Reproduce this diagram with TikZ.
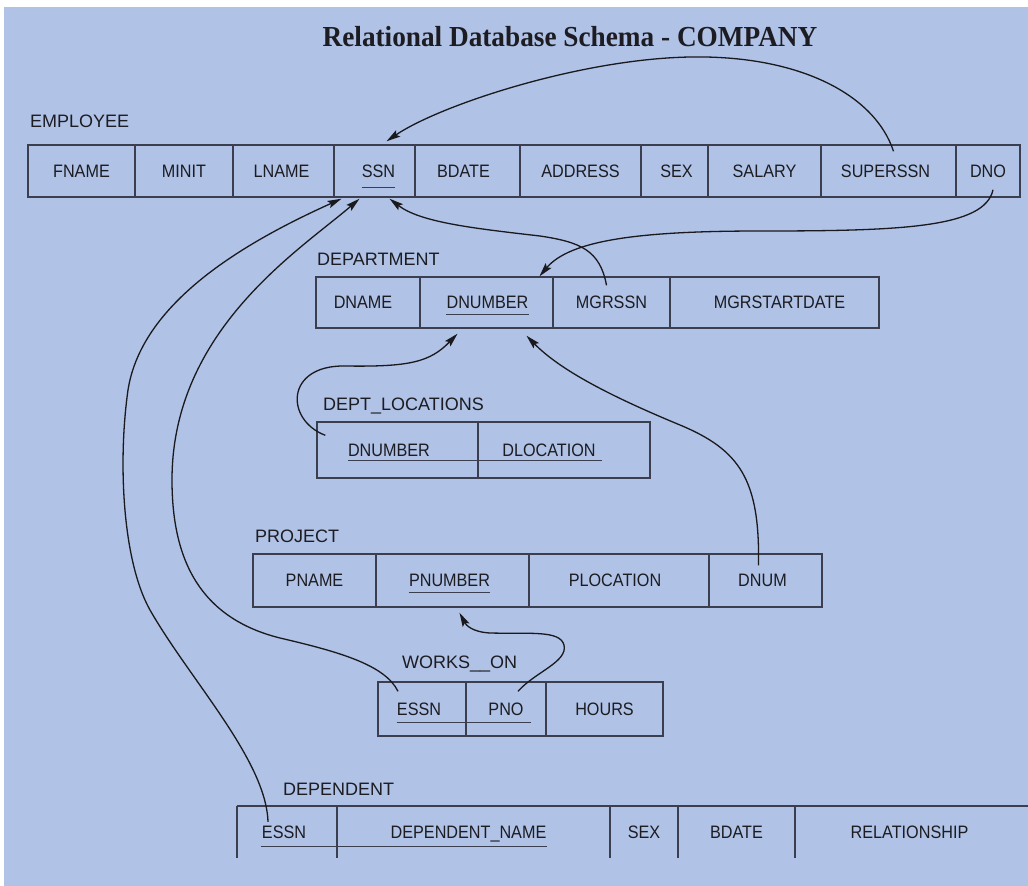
\documentclass[tikz,border=0pt]{standalone}
\usepackage{fontspec}
\usetikzlibrary{arrows.meta}
\newfontfamily\cellfont[FakeStretch=0.9]{Liberation Sans}
\newfontfamily\labfont{Liberation Sans}
\newfontfamily\titfont[FakeStretch=0.94]{Liberation Serif}
\definecolor{bg}{RGB}{176,194,229}
\definecolor{tlinec}{RGB}{58,62,78}
\definecolor{txtc}{RGB}{28,28,34}
\definecolor{arrc}{RGB}{25,25,30}
\newcommand\mkcell[7]{%
  \node[cellbox, minimum width=#3pt, minimum height=#5pt] (#1) at (#2,#4) {};
  \node[celltext, xshift=#7pt] (#1-t) at (#1) {#6};}
\newcommand\mkopen[7]{%
  \node[openbox, minimum width=#3pt, minimum height=#5pt] (#1) at (#2,#4) {};
  \node[celltext, xshift=#7pt] (#1-t) at (#1) {#6};}
\begin{document}
\begin{tikzpicture}[x=1pt,y=-1pt,
  cellbox/.style={draw=tlinec, line width=1.4pt, inner sep=0pt},
  openbox/.style={inner sep=0pt},
  celltext/.style={inner sep=0pt, text height=12.9pt, text depth=0pt, text=txtc,
    font=\cellfont\fontsize{18}{20}\selectfont},
  lab/.style={anchor=west, inner sep=0pt, text height=12.9pt, text depth=0pt, text=txtc,
    font=\labfont\fontsize{18}{20}\selectfont},
  tl/.style={draw=tlinec, line width=1.4pt},
  ul/.style={draw=tlinec, line width=1.3pt},
  conn/.style={draw=arrc, line width=1.3pt, -{Stealth[length=14pt,width=7.5pt,inset=2.5pt]}}]
\fill[white] (0,0) rectangle (1028,886);
\fill[bg] (4,7) rectangle (1028,886);
\useasboundingbox (0,0) rectangle (1028,886);

\node[inner sep=0pt, text=txtc, font=\titfont\bfseries\fontsize{29}{32}\selectfont] (title) at (570,37) {Relational Database Schema - COMPANY};

% EMPLOYEE
\node[lab] (l-emp) at (30,121) {EMPLOYEE};
\mkcell{e-fname}{81.5}{107}{171}{52}{FNAME}{0}
\mkcell{e-minit}{184}{98}{171}{52}{MINIT}{0}
\mkcell{e-lname}{283.5}{101}{171}{52}{LNAME}{-2}
\mkcell{e-ssn}{374.5}{81}{171}{52}{SSN}{4}
\mkcell{e-bdate}{467.5}{105}{171}{52}{BDATE}{-4}
\mkcell{e-address}{580.5}{121}{171}{52}{ADDRESS}{0}
\mkcell{e-sex}{674.5}{67}{171}{52}{SEX}{2}
\mkcell{e-salary}{764.5}{113}{171}{52}{SALARY}{0}
\mkcell{e-superssn}{888.5}{135}{171}{52}{SUPERSSN}{-3}
\mkcell{e-dno}{988}{64}{171}{52}{DNO}{0}

% DEPARTMENT
\node[lab] (l-dept) at (317,259) {DEPARTMENT};
\mkcell{d-dname}{368}{104}{302.5}{51}{DNAME}{-5}
\mkcell{d-dnumber}{486.5}{133}{302.5}{51}{DNUMBER}{1}
\mkcell{d-mgrssn}{611.5}{117}{302.5}{51}{MGRSSN}{0}
\mkcell{d-mgrstart}{774.5}{209}{302.5}{51}{MGRSTARTDATE}{5}

% DEPT_LOCATIONS
\node[lab] (l-dl) at (323,404) {DEPT\textunderscore LOCATIONS};
\mkcell{dl-dnumber}{397.5}{161}{450}{56}{DNUMBER}{-8.5}
\mkcell{dl-dlocation}{564}{172}{450}{56}{DLOCATION}{-15}

% PROJECT
\node[lab] (l-proj) at (255,536) {PROJECT};
\mkcell{p-pname}{314.5}{123}{580.5}{53}{PNAME}{0}
\mkcell{p-pnumber}{452.5}{153}{580.5}{53}{PNUMBER}{-3}
\mkcell{p-plocation}{619}{180}{580.5}{53}{PLOCATION}{-4}
\mkcell{p-dnum}{765.5}{113}{580.5}{53}{DNUM}{-3}

% WORKS_ON
\node[lab] (l-wo) at (402,662) {WORKS\textunderscore\textunderscore ON};
\mkcell{w-essn}{422}{88}{709}{54}{ESSN}{-3}
\mkcell{w-pno}{506}{80}{709}{54}{PNO}{0}
\mkcell{w-hours}{604.5}{117}{709}{54}{HOURS}{0}

% DEPENDENT
\node[lab] (l-dep) at (283,789) {DEPENDENT};
\mkopen{dep-essn}{287}{100}{832}{52}{ESSN}{-3}
\mkopen{dep-name}{473.5}{273}{832}{52}{DEPENDENT\textunderscore NAME}{-5}
\mkopen{dep-sex}{644}{68}{832}{52}{SEX}{0}
\mkopen{dep-bdate}{736.5}{117}{832}{52}{BDATE}{0}
\mkopen{dep-rel}{911.5}{233}{832}{52}{RELATIONSHIP}{-2}
\draw[tl] (dep-essn.north west) -- (dep-rel.north east);
\foreach \c in {dep-essn,dep-name,dep-sex,dep-bdate,dep-rel}
  \draw[tl] (\c.north west) -- (\c.south west);

% underlines (keys)
\draw[ul] ([yshift=-10pt]e-ssn-t.south west) -- ([yshift=-10pt]e-ssn-t.south east);
\draw[ul] ([yshift=-5pt]d-dnumber-t.south west) -- ([yshift=-5pt]d-dnumber-t.south east);
\draw[ul] ([yshift=-4pt]dl-dnumber-t.south west) -- ([xshift=6pt,yshift=-4pt]dl-dlocation-t.south east);
\draw[ul] ([yshift=-5pt]p-pnumber-t.south west) -- ([yshift=-5pt]p-pnumber-t.south east);
\draw[ul] ([yshift=-7pt]w-essn-t.south west) -- ([xshift=7pt,yshift=-7pt]w-pno-t.south east);
\draw[ul] ([xshift=-1pt,yshift=-8pt]dep-essn-t.south west) -- ([yshift=-8pt]dep-name-t.south east);

% foreign keys
\draw[conn] ([xshift=5pt,yshift=-7pt]e-superssn.north) .. controls (875,95) and (800,55) .. (690,57)
  .. controls (580,59) and (440,105) .. ([xshift=12pt,yshift=3pt]e-ssn.north);
\draw[conn] ([xshift=5pt,yshift=8pt]e-dno.south) .. controls (985,228) and (900,231) .. (760,231)
  .. controls (640,231) and (570,240) .. ([xshift=53pt]d-dnumber.north);
\draw[conn] ([xshift=-5pt,yshift=-9pt]d-mgrssn.north) .. controls (600,250) and (580,242) .. (540,236)
  .. controls (470,228) and (420,222) .. ([xshift=15pt,yshift=-1pt]e-ssn.south);
\draw[conn] ([xshift=9pt,yshift=-14pt]dl-dnumber.north west) .. controls (285,420) and (285,365) .. (345,366)
  .. controls (410,367) and (430,362) .. ([xshift=-29pt,yshift=-5pt]d-dnumber.south);
\draw[conn] ([xshift=-7pt,yshift=-12pt]p-dnum.north) .. controls (760,480) and (740,450) .. (680,425)
  .. controls (610,396) and (560,370) .. ([xshift=40pt,yshift=-7pt]d-dnumber.south);
\draw[conn] ([xshift=-24pt,yshift=-10pt]w-essn.north) .. controls (385,665) and (340,652) .. (280,638)
  .. controls (200,618) and (172,560) .. (172,480)
  .. controls (172,330) and (300,250) .. ([xshift=-15pt,yshift=-1pt]e-ssn.south);
\draw[conn] ([xshift=-19pt,yshift=-16pt]dep-essn.north) .. controls (266,760) and (190,680) .. (150,610)
  .. controls (122,560) and (118,460) .. (128,390)
  .. controls (142,300) and (250,240) .. ([xshift=-33pt,yshift=-1pt]e-ssn.south);
\draw[conn] ([xshift=12pt,yshift=-10pt]w-pno.north) .. controls (535,672) and (568,662) .. (564,645)
  .. controls (560,630) and (530,634) .. (490,633)
  .. controls (472,632) and (466,625) .. ([xshift=7pt,yshift=-5pt]p-pnumber.south);
\end{tikzpicture}
\end{document}
